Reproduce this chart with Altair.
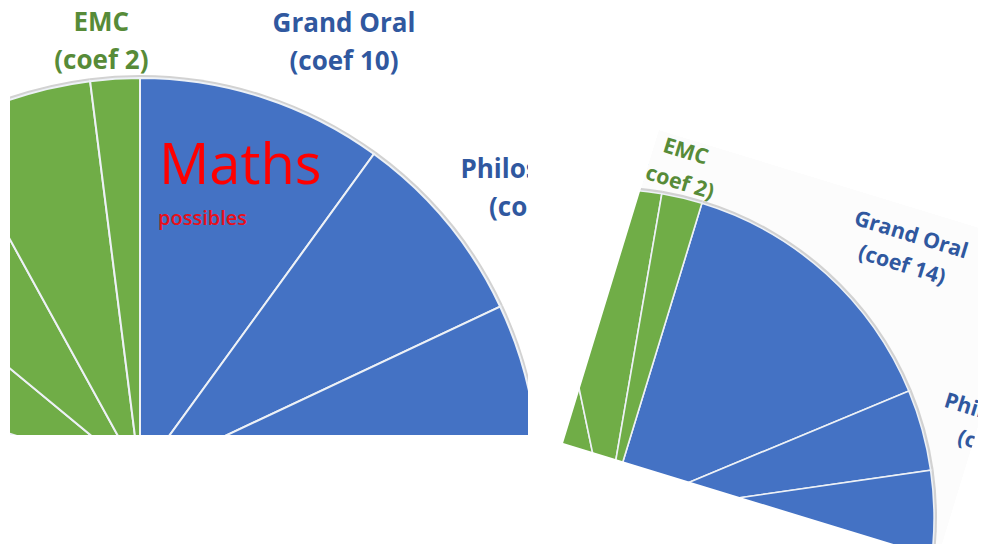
import math
import altair as alt
import pandas as pd

# ---------------- data ----------------
subjects = ["Grand Oral", "Philosophie", "Spécialité 1", "Spécialité 2", "Français écrit",
            "Français oral", "Spécialité abandonnée", "Histoire-géographie", "LVA", "LVB",
            "EPS", "Enseignement scientifique", "EMC"]
groups = ["finale"] * 6 + ["continu"] * 7

left_coefs = [10, 8, 16, 16, 5, 5, 8, 6, 6, 6, 6, 6, 2]
right_coefs = [14, 4, 16, 16, 5, 5, 8, 6, 6, 6, 6, 6, 2]

left_labels = {"EMC": "EMC\n(coef 2)", "Grand Oral": "Grand Oral\n(coef 10)",
               "Philosophie": "Philosophie\n(coef 8)"}
right_labels = {"EMC": "EMC\n(coef 2)", "Grand Oral": "Grand Oral\n(coef 14)",
                "Philosophie": "Philosophie\n(coef 4)"}

annotation_big = ["Maths"]
annotation_small = ["possibles"]

# ---------------- styles ----------------
BLUE = "#4472C4"
GREEN = "#70AD47"
TEXT_COL = {"finale": "#30589F", "continu": "#578B38"}
FONT = "Open Sans"

LEFT_NUDGE = {"EMC": (-11, -14), "Grand Oral": (68, -34), "Philosophie": (57, -26)}
RIGHT_NUDGE = {"EMC": (-8, -10), "Grand Oral": (55, -30), "Philosophie": (46, -16)}


def pie_layers(coefs, labels, nudges, cx, cy, r, text_r, rot_deg, font_size, line_h, sep_w):
    df = pd.DataFrame({
        "subject": subjects,
        "coef": coefs,
        "group": groups,
        "idx": list(range(len(subjects))),
        "label": [labels.get(s, "") for s in subjects],
    })
    total = sum(coefs)
    off = math.radians(rot_deg)
    tscale = alt.Scale(domain=[0, total], range=[off, off + 2 * math.pi])
    base = alt.Chart(df).transform_window(
        cum="sum(coef)", sort=[alt.SortField("idx")]
    ).transform_calculate(start="datum.cum - datum.coef", mid="datum.cum - datum.coef / 2")

    rim = base.mark_arc(x=cx, y=cy, radius=r + 3, color="#d2d2d2", clip=True).encode(
        theta=alt.Theta("start:Q", scale=tscale, stack=False),
        theta2=alt.Theta2("cum"),
    )
    pie = base.mark_arc(x=cx, y=cy, radius=r, stroke="#edf1f6", strokeWidth=sep_w,
                        clip=True).encode(
        theta=alt.Theta("start:Q", scale=tscale, stack=False),
        theta2=alt.Theta2("cum"),
        color=alt.Color("group:N", scale=alt.Scale(domain=["finale", "continu"],
                                                   range=[BLUE, GREEN]), legend=None),
    )
    layers = [rim, pie]
    for subj, (dx, dy) in nudges.items():
        g = groups[subjects.index(subj)]
        t = base.transform_filter(alt.datum.subject == subj).mark_text(
            x=cx, y=cy, radius=text_r, dx=dx, dy=dy, angle=rot_deg,
            font=FONT, fontWeight="bold", fontSize=font_size, lineHeight=line_h,
            lineBreak="\n", align="center", baseline="middle",
            color=TEXT_COL[g], clip=True,
        ).encode(
            theta=alt.Theta("mid:Q", scale=tscale, stack=False),
            text="label:N",
        )
        layers.append(t)
    return layers


# ---------------- left panel ----------------
LW, LH = 518, 427
left_layers = pie_layers(left_coefs, left_labels, LEFT_NUDGE, 130, 468, 398, 440, 0,
                         26, 38, 2)
maths = alt.Chart(pd.DataFrame({"t": annotation_big})).mark_text(
    x=149, y=176, align="left", baseline="alphabetic", font=FONT, fontSize=56,
    color="#FF0000", clip=True,
).encode(text="t:N")
poss = alt.Chart(pd.DataFrame({"t": annotation_small})).mark_text(
    x=148, y=217, align="left", baseline="alphabetic", font=FONT, fontSize=20,
    fontWeight=600, color="#E8101A", clip=True,
).encode(text="t:N")
left = alt.layer(*left_layers, maths, poss).properties(width=LW, height=LH)

# ---------------- right panel (rotated picture) ----------------
RW, RH = 440, 536
ROT = 17
SC = 0.824
right_pie = pie_layers(right_coefs, right_labels, RIGHT_NUDGE, 68, 509, 328, 440 * SC, ROT,
                       26 * SC, 38 * SC, 1.6)

hw, hh = 196, 163.7
rect_path = f"M{-hw},{-hh}L{hw},{-hh}L{hw},{hh}L{-hw},{hh}Z"
frame_path = (f"M-2500,-2500L2500,-2500L2500,2500L-2500,2500Z "
              f"M{-hw},{-hh}L{-hw},{hh}L{hw},{hh}L{hw},{-hh}Z")
MX, MY = 260.4, 335.75

backdrop = alt.Chart(pd.DataFrame({"m": [0]})).mark_point(
    shape=rect_path, size=4, angle=ROT, filled=True, fill="#fcfcfc", strokeWidth=0,
    opacity=1, clip=True,
).encode(x=alt.value(MX), y=alt.value(MY))
mask = alt.Chart(pd.DataFrame({"m": [0]})).mark_point(
    shape=frame_path, size=4, angle=ROT, filled=True, fill="white", strokeWidth=0,
    opacity=1, clip=True,
).encode(x=alt.value(MX), y=alt.value(MY))

right = alt.layer(backdrop, *right_pie, mask).properties(width=RW, height=RH)

chart = alt.hconcat(left, right, spacing=10).properties(
    padding={"left": 2, "top": 0, "right": 0, "bottom": 0},
    background="white",
).configure_view(stroke=None)

chart.save("out.html", embed_options={"renderer": "svg", "actions": False})
